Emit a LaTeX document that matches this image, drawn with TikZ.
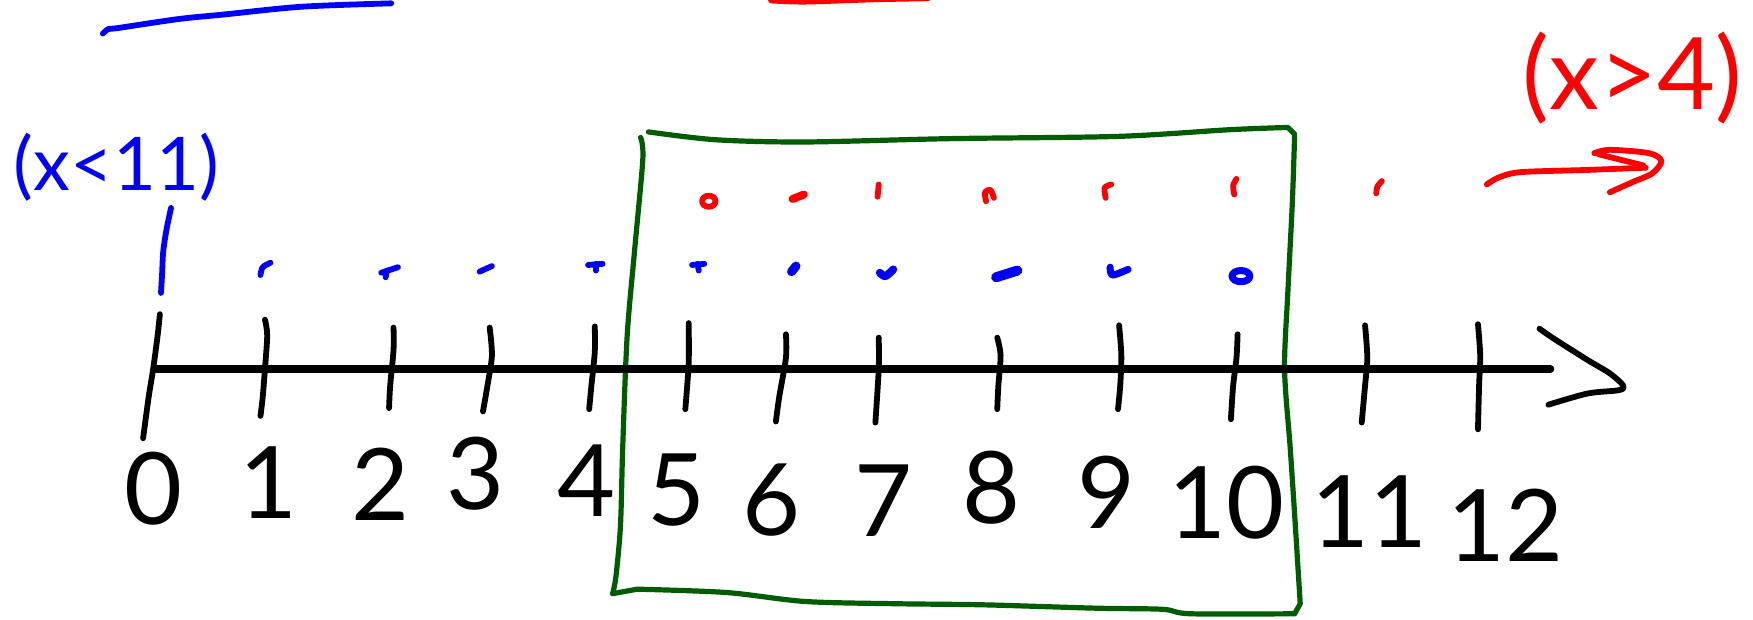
\documentclass[tikz,border=0pt]{standalone}
\usepackage{fontspec}
\setmainfont{Lato}
\definecolor{inkblue}{RGB}{0,0,255}
\definecolor{inkred}{RGB}{255,0,0}
\definecolor{inkgreen}{RGB}{0,92,0}
\tikzset{
  pen/.style={line width=2.9pt, line cap=round, line join=round},
  blackpen/.style={pen, black},
  bluepen/.style={pen, inkblue},
  redpen/.style={pen, inkred},
  greenpen/.style={pen, inkgreen, line width=2.6pt},
  digit/.style={font=\fontsize{50}{52}\selectfont, inner sep=0pt},
}
\begin{document}
\begin{tikzpicture}[x=0.559pt,y=-0.559pt]
\useasboundingbox (0,0) rectangle (1568,554);
% top strokes (cut off)
\draw[bluepen] plot[smooth] coordinates {(92,30) (97,26) (106,25) (160,17) (200,13) (270,6) (350,3)};
\draw[redpen, line width=3.4pt] plot[smooth] coordinates {(690,0) (720,1) (780,-1) (830,-2)};
\draw[redpen, line width=2.4pt] (872,-2) -- (960,-2);
% green box
\draw[greenpen] plot[smooth] coordinates {(580,118) (640,125) (720,127) (850,124) (1000,122) (1100,116) (1152,114)}
  -- (1158,120) plot[smooth] coordinates {(1158,120) (1156,180) (1152,260) (1149,330) (1154,400) (1158,460) (1163,540)}
  -- (1158,549) plot[smooth] coordinates {(1158,549) (1065,549) (1040,545) (980,544) (880,541) (800,540) (720,538) (650,530) (570,527)}
  -- (548,531);
\draw[greenpen] plot[smooth] coordinates {(573,123) (575,142) (568,220) (561,300) (557,400) (555,470) (551,515) (548,531)};
% x<11 label
\node[text=inkblue, font=\fontsize{37}{39}\selectfont, inner sep=0pt] (lblA) at (104,150) {(x<11)};
\draw[bluepen] plot[smooth] coordinates {(153,186) (149,205) (146,225) (145,245) (144,262)};
% x>4 label and arrow
\node[text=inkred, font=\fontsize{50}{52}\selectfont, inner sep=0pt] (lblB) at (1460,70) {(x>4)};
\draw[redpen] plot[smooth] coordinates {(1330,165) (1340,159) (1360,154) (1420,152) (1472,150)};
\draw[redpen] plot[smooth] coordinates {(1426,137) (1440,134) (1475,137) (1486,144) (1478,155) (1460,163) (1440,172)};
\draw[redpen] (1430,138) -- (1470,148);
% red dots
\draw[redpen] (634,180) ellipse (6 and 5);
\draw[redpen, line width=4pt] (709,178) -- (719,174);
\draw[redpen] (786,165) -- (785,176);
\draw[redpen] plot[smooth] coordinates {(882,180) (881,172) (886,170) (889,177)};
\draw[redpen] plot[smooth] coordinates {(994,165) (988,168) (989,177)};
\draw[redpen] plot[smooth] coordinates {(1106,160) (1103,166) (1104,174)};
\draw[redpen] plot[smooth] coordinates {(1236,162) (1232,167) (1231,173)};
% blue dots
\draw[bluepen] plot[smooth] coordinates {(233,246) (235,239) (242,235)};
\draw[bluepen] (341,244) -- (356,239);
\draw[bluepen] (346,242) -- (345,248);
\draw[bluepen] (429,243) -- (440,238);
\draw[bluepen] (526,237) -- (539,236);
\draw[bluepen] (533,236) -- (533,242);
\draw[bluepen] (619,237) -- (630,236);
\draw[bluepen] (624,236) -- (625,242);
\draw[bluepen, line width=4.5pt] (708,243) -- (712,238);
\draw[bluepen, line width=4pt] plot[smooth] coordinates {(787,244) (792,247) (799,241)};
\draw[bluepen, line width=5pt] (891,248) -- (910,242);
\draw[bluepen, line width=3.5pt] plot[smooth] coordinates {(993,239) (995,246) (1009,241)};
\draw[bluepen, line width=3.5pt] (1110,247) ellipse (8 and 5);
% axis
\draw[blackpen, line width=3.6pt] (138,330) -- (1387,330);
\draw[blackpen] plot[smooth] coordinates {(1377,294) (1390,303) (1420,322) (1440,334) (1452,345) (1448,349) (1420,352) (1385,362)};
% ticks
\draw[blackpen] plot[smooth] coordinates {(143,281) (141,300) (137,330) (133,355) (128,392)};
\draw[blackpen] plot[smooth] coordinates {(237,286) (239,300) (237,330) (235,355) (233,372)};
\draw[blackpen] plot[smooth] coordinates {(352,293) (352,313) (349,345) (348,365)};
\draw[blackpen] plot[smooth] coordinates {(438,293) (440,318) (436,345) (432,368)};
\draw[blackpen] plot[smooth] coordinates {(532,292) (532,315) (529,345) (527,366)};
\draw[blackpen] plot[smooth] coordinates {(616,289) (616,325) (613,366)};
\draw[blackpen] plot[smooth] coordinates {(703,299) (703,320) (697,355) (694,377)};
\draw[blackpen] plot[smooth] coordinates {(786,302) (786,330) (783,378)};
\draw[blackpen] plot[smooth] coordinates {(892,302) (895,318) (893,345) (892,366)};
\draw[blackpen] plot[smooth] coordinates {(1001,291) (1003,318) (1002,345) (1000,366)};
\draw[blackpen] plot[smooth] coordinates {(1107,299) (1106,320) (1103,345) (1101,375)};
\draw[blackpen] plot[smooth] coordinates {(1221,291) (1223,320) (1221,345) (1218,378)};
\draw[blackpen] plot[smooth] coordinates {(1322,290) (1324,318) (1323,345) (1322,384)};
% digits
\node[digit] (n0) at (137,437) {0};
\node[digit] (n1) at (240,432) {1};
\node[digit] (n2) at (340,433) {2};
\node[digit] (n3) at (425,424) {3};
\node[digit] (n4) at (525,430) {4};
\node[digit] (n5) at (605,438) {5};
\node[digit] (n6) at (690,447) {6};
\node[digit] (n7) at (790,448) {7};
\node[digit] (n8) at (887,436) {8};
\node[digit] (n9) at (990,440) {9};
\node[digit] (n10) at (1097,450) {10};
\node[digit] (n11) at (1225,458) {11};
\node[digit] (n12) at (1347,470) {12};
\end{tikzpicture}
\end{document}
